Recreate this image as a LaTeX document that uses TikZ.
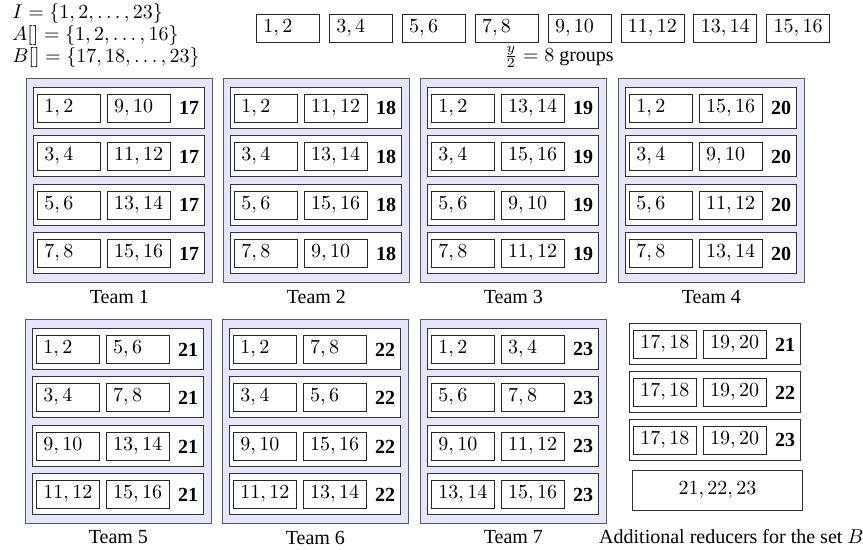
\documentclass[tikz,border=0pt]{standalone}
\usepackage[no-math]{fontspec}
\setmainfont{Liberation Serif}
\usepackage{amsmath, amssymb}
\usepackage{tikz}
\usetikzlibrary{positioning, calc}

\newcommand{\pairtxt}[1]{\makebox[24.5pt][l]{$#1$}}

\begin{document}
\begin{tikzpicture}[x=0.5pt, y=-0.5pt,
    teambox/.style={draw=black!65, fill=blue!10, minimum width=93pt, minimum height=102pt, inner sep=0pt},
    rowbox/.style={draw=black!80, fill=white, minimum width=85.5pt, minimum height=20.5pt, inner sep=0pt},
    pairbox/.style={draw=black!85, fill=white, text height=9pt, text depth=5pt, inner xsep=3.5pt, inner ysep=0pt},
    numlabel/.style={font=\bfseries, inner sep=2pt}]
    \useasboundingbox (0,0) rectangle (863,550);

    % Insiemi
    \node[anchor=north west, align=left, inner sep=1pt, font=\fontsize{10}{11}\selectfont] (sets) at (10,1)
        {$I = \{1,2,\ldots,23\}$\\ $A[] = \{1,2,\ldots,16\}$\\ $B[] = \{17,18,\ldots,23\}$};

    % Gruppi
    \foreach \g [count=\k from 0] in {1,3,...,15} {
        \pgfmathtruncatemacro\gg{\g+1}
        \node[pairbox, anchor=north west] (grp\g) at ({256+72.9*\k}, 14) {\pairtxt{\g,\gg}};
    }
    \node (ngroups) at (559,57) {$\frac{y}{2} = 8$ groups};

    % Team
    \foreach \t/\tx/\ty/\rows in {1/26/78/{1/9,3/11,5/13,7/15}, 2/223/78/{1/11,3/13,5/15,7/9},
        3/420/78/{1/13,3/15,5/9,7/11}, 4/618/78/{1/15,3/9,5/11,7/13},
        5/25/319/{1/5,3/7,9/13,11/15}, 6/222/319/{1/7,3/5,9/15,11/13}, 7/420/319/{1/3,5/7,9/11,13/15}} {
        \pgfmathtruncatemacro\num{16+\t}
        \node[teambox, anchor=north west] (team\t) at (\tx,\ty) {};
        \node[below=0pt of team\t] (lab\t) {Team \t};
        \foreach \a/\b [count=\r] in \rows {
            \pgfmathtruncatemacro\aa{\a+1}
            \pgfmathtruncatemacro\bb{\b+1}
            \node[rowbox, anchor=north west] (row\t\r) at ({\tx+7}, {\ty+9+48.5*(\r-1)}) {};
            \node[pairbox, below right=3.5pt and 2pt of row\t\r.north west] (pa\t\r) {\pairtxt{\a,\aa}};
            \node[pairbox, right=3pt of pa\t\r] (pb\t\r) {\pairtxt{\b,\bb}};
            \node[numlabel, right=2pt of pb\t\r] (num\t\r) {\num};
        }
    }

    % Reducer aggiuntivi per B
    \foreach \r in {1,2,3} {
        \pgfmathtruncatemacro\num{20+\r}
        \node[rowbox, anchor=north west] (xrow\r) at (629, {323+48*(\r-1)}) {};
        \node[pairbox, below right=3.5pt and 2pt of xrow\r.north west] (xpa\r) {\pairtxt{17,18}};
        \node[pairbox, right=3pt of xpa\r] (xpb\r) {\pairtxt{19,20}};
        \node[numlabel, right=2pt of xpb\r] (xnum\r) {\num};
    }
    \node[draw=black!80, minimum width=85pt, minimum height=20pt, anchor=north west] (xall) at (632,470) {$21,22,23$};
    \node[below=6pt of xall, xshift=7pt] (xcap) {Additional reducers for the set $B$};
\end{tikzpicture}
\end{document}
